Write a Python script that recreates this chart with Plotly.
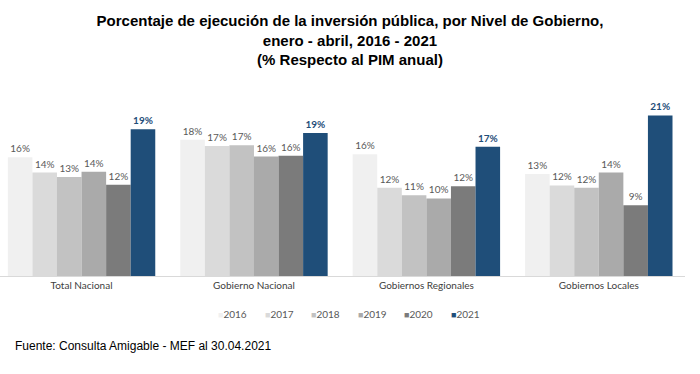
import plotly.graph_objects as go

categories = ["Total Nacional", "Gobierno Nacional", "Gobiernos Regionales", "Gobiernos Locales"]
years = ["2016", "2017", "2018", "2019", "2020", "2021"]
v2016 = [15.6, 17.9, 16.0, 13.4]
v2017 = [13.6, 17.1, 11.6, 11.9]
v2018 = [13.0, 17.2, 10.6, 11.6]
v2019 = [13.7, 15.7, 10.2, 13.6]
v2020 = [12.0, 15.8, 11.8, 9.3]
v2021 = [19.3, 18.8, 17.0, 21.1]
series = [v2016, v2017, v2018, v2019, v2020, v2021]
colors = ["#F0F0F0", "#DADADA", "#C2C2C2", "#AAAAAA", "#7B7B7B", "#1F4E79"]

W, H = 700, 374
top, bottom = 101, 98
PW, PH = W - 15, H - top - bottom
LABEL_FONT = "Lato, 'Open Sans', sans-serif"

fig = go.Figure()
for yr, vals, col in zip(years, series, colors):
    is_last = yr == "2021"
    fig.add_trace(go.Bar(
        x=categories, y=vals, name=yr, marker=dict(color=col, line=dict(width=0)),
        texttemplate="<b>%{y:.0f}%</b>" if is_last else "%{y:.0f}%",
        textposition="outside", cliponaxis=False,
        textfont=dict(family=LABEL_FONT, size=10, color="#1F4E79" if is_last else "#595959"),
        showlegend=False, hoverinfo="skip",
    ))

# legend row drawn as text (small coloured square + year)
annotations = []
leg_x0, leg_step, leg_y = 216, 46.6, 314
for i, (yr, col) in enumerate(zip(years, colors)):
    annotations.append(dict(
        text=f"<span style='color:{col};font-size:9px'>■</span>{yr}",
        xref="paper", yref="paper",
        x=(leg_x0 + i * leg_step) / PW, y=-(leg_y - (H - bottom)) / PH,
        xanchor="left", yanchor="middle", showarrow=False,
        font=dict(family=LABEL_FONT, size=10, color="#595959"),
    ))

annotations.append(dict(
    text="Fuente: Consulta Amigable - MEF al 30.04.2021",
    xref="paper", yref="paper", x=13 / PW, y=-(346 - (H - bottom)) / PH,
    xanchor="left", yanchor="middle", showarrow=False,
    font=dict(family="Arial, 'Liberation Sans', sans-serif", size=12, color="black"),
))

fig.update_layout(
    width=W, height=H,
    margin=dict(l=0, r=15, t=top, b=bottom, autoexpand=False),
    paper_bgcolor="white", plot_bgcolor="white",
    barmode="group", bargap=0.145, bargroupgap=0,
    showlegend=False,
    title=dict(
        text="<b>Porcentaje de ejecución de la inversión pública, por Nivel de Gobierno,<br>enero - abril, 2016 - 2021<br>(% Respecto al PIM anual)</b>",
        x=0.5, xanchor="center", xref="container", y=1 - 26 / H, yanchor="top", yref="container",
        font=dict(family="Arial, 'Liberation Sans', sans-serif", size=15, color="black"),
    ),
    xaxis=dict(
        range=[-0.473, 3.5], showline=True, linecolor="#D9D9D9", linewidth=1,
        ticks="", showgrid=False, automargin=False,
        tickfont=dict(family=LABEL_FONT, size=10, color="#404040"),
    ),
    yaxis=dict(range=[0, 23], visible=False, showgrid=False, zeroline=False),
    annotations=annotations,
)

fig.write_html(
    "out.html",
    config={"displayModeBar": False},
    post_script="document.body.style.margin='0px';",
)
